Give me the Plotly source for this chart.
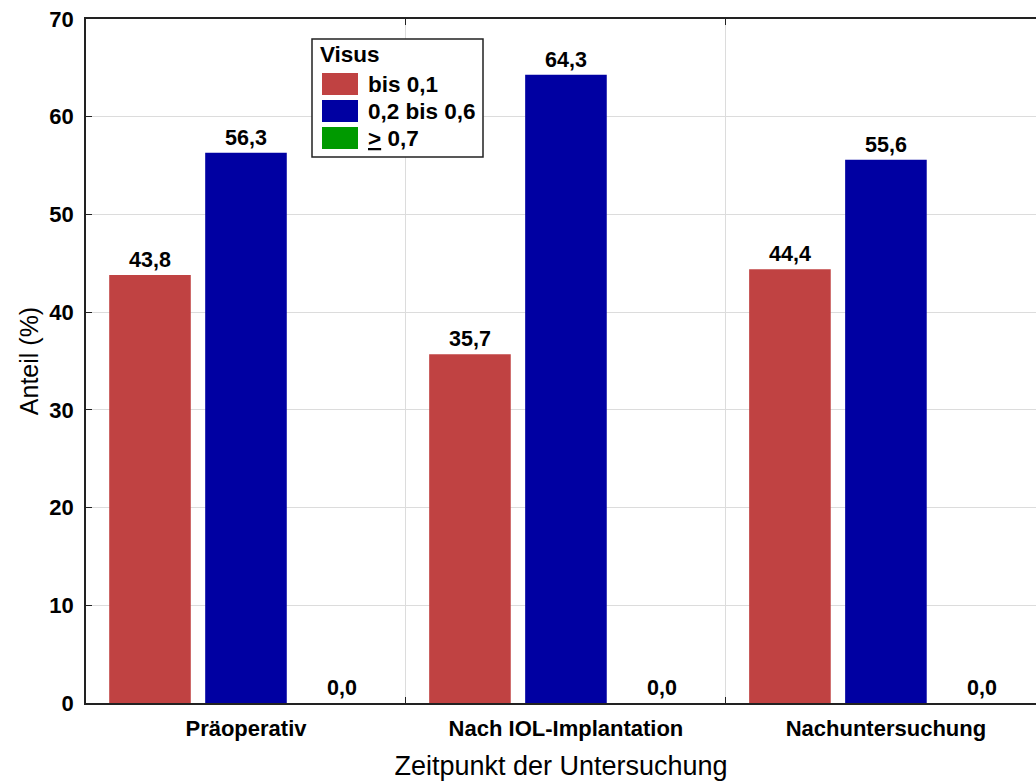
import plotly.graph_objects as go

# Data: share of patients per visual acuity class at each examination time
zeitpunkte = ["Präoperativ", "Nach IOL-Implantation", "Nachuntersuchung"]
visus_klassen = ["bis 0,1", "0,2 bis 0,6", "<u>></u> 0,7"]
anteil_bis_01 = [43.8, 35.7, 44.4]
anteil_02_06 = [56.3, 64.3, 55.6]
anteil_ab_07 = [0.0, 0.0, 0.0]
farben = ["#C04242", "#0000A2", "#009A00"]

W, H = 1036, 781
M_L, M_R, M_T, M_B = 86, 0, 19, 78
PW, PH = W - M_L - M_R, H - M_T - M_B

FONT = "Liberation Sans, Arial, sans-serif"


def px_x(x):
    return (x - M_L) / PW


def px_y(y):
    return 1 - (y - M_T) / PH


fig = go.Figure()
for name, vals, col in zip(visus_klassen, [anteil_bis_01, anteil_02_06, anteil_ab_07], farben):
    fig.add_trace(go.Bar(
        name=name, x=zeitpunkte, y=vals, marker=dict(color=col, line=dict(width=0)),
        texttemplate="%{y:.1f}", textposition="outside", cliponaxis=False,
        textfont=dict(family=FONT, size=21.5, color="black", weight="bold"),
        showlegend=False,
    ))

# Hand-drawn legend box with large swatches
shapes = [dict(type="rect", xref="paper", yref="paper",
               x0=px_x(312), x1=px_x(483), y0=px_y(157), y1=px_y(39),
               line=dict(color="#222222", width=1.5), fillcolor="white", layer="above")]
annotations = [dict(xref="paper", yref="paper", x=px_x(318), y=px_y(55), text="<b>Visus</b>",
                    showarrow=False, xanchor="left", yanchor="middle",
                    font=dict(family=FONT, size=22.5, color="black"))]
row_tops = [73, 100, 127]
for name, col, top in zip(visus_klassen, farben, row_tops):
    shapes.append(dict(type="rect", xref="paper", yref="paper",
                       x0=px_x(322), x1=px_x(358), y0=px_y(top + 22), y1=px_y(top),
                       line=dict(width=0), fillcolor=col, layer="above"))
    annotations.append(dict(xref="paper", yref="paper", x=px_x(366), y=px_y(top + 11),
                            text=f"<b>{name}</b>", showarrow=False, xanchor="left", yanchor="middle",
                            font=dict(family=FONT, size=22.5, color="black")))

fig.update_layout(
    width=W, height=H,
    margin=dict(l=M_L, r=M_R, t=M_T, b=M_B, autoexpand=False),
    paper_bgcolor="white", plot_bgcolor="white",
    barmode="group", bargap=0.1, bargroupgap=0.15,
    separators=",.",
    shapes=shapes, annotations=annotations,
    font=dict(family=FONT, color="black"),
)
fig.update_xaxes(
    type="category", range=[-0.5, 2.469], tickson="boundaries",
    showgrid=True, gridcolor="#dcdcdc", gridwidth=1,
    showline=True, linecolor="#222222", linewidth=1.5, mirror="ticks",
    ticks="inside", ticklen=6, tickcolor="#222222",
    tickfont=dict(family=FONT, size=22, weight="bold"), ticklabelstandoff=5,
    title=dict(text="Zeitpunkt der Untersuchung", font=dict(family=FONT, size=27), standoff=16),
)
fig.update_yaxes(
    range=[0, 70], dtick=10, showgrid=True, gridcolor="#dcdcdc", gridwidth=1,
    showline=True, linecolor="#222222", linewidth=1.5, zeroline=False,
    ticks="inside", ticklen=6, tickcolor="#222222",
    tickfont=dict(family=FONT, size=22, weight="bold"), ticklabelstandoff=6,
    title=dict(text="Anteil (%)", font=dict(family=FONT, size=25), standoff=4),
)

fig.write_html("out.html")
